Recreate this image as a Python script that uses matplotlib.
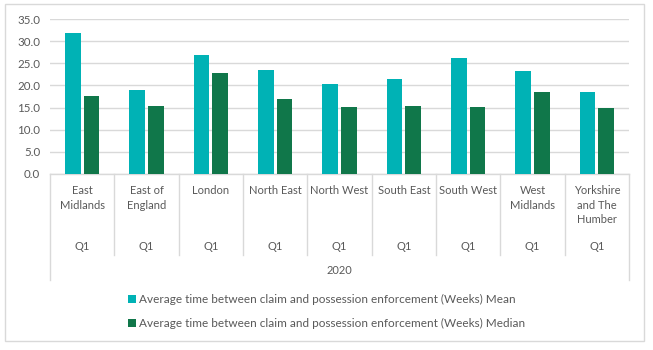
import matplotlib
matplotlib.use("Agg")
import matplotlib.pyplot as plt
from matplotlib.patches import Rectangle
from matplotlib.lines import Line2D

regions = ["East\nMidlands", "East of\nEngland", "London", "North East", "North West",
           "South East", "South West", "West\nMidlands", "Yorkshire\nand The\nHumber"]
quarter = "Q1"
year = "2020"
mean_vals = [31.8, 19.0, 26.9, 23.4, 20.3, 21.4, 26.2, 23.2, 18.6]
median_vals = [17.6, 15.4, 22.9, 17.0, 15.1, 15.4, 15.1, 18.6, 14.9]
series_names = ["Average time between claim and possession enforcement (Weeks) Mean",
                "Average time between claim and possession enforcement (Weeks) Median"]
yticks = [0, 5, 10, 15, 20, 25, 30, 35]

plt.rcParams['font.family'] = ['Lato', 'DejaVu Sans']
TXT = '#595959'
C_MEAN = '#00B2B5'
C_MED = '#10774A'
GRID = '#D9D9D9'

W, H = 653, 350
fig = plt.figure(figsize=(W/100, H/100), dpi=100)
fig.add_artist(Rectangle((5/W, 1 - 341/H), 639/W, 337/H, transform=fig.transFigure,
                         fill=False, edgecolor='#D9D9D9', linewidth=1))

x0, x1, ytop, ybot = 50, 629, 19, 174
ax = fig.add_axes([x0/W, 1 - ybot/H, (x1 - x0)/W, (ybot - ytop)/H])

n = len(regions)
xs = list(range(n))
bw = 0.24
off = 0.145
b1 = ax.bar([x - off for x in xs], mean_vals, width=bw, color=C_MEAN, label=series_names[0], zorder=3)
b2 = ax.bar([x + off for x in xs], median_vals, width=bw, color=C_MED, label=series_names[1], zorder=3)

ax.set_xlim(-0.5, n - 0.5)
ax.set_ylim(0, 35)
ax.set_yticks(yticks)
ax.set_yticklabels([f"{v:.1f}" for v in yticks], color=TXT, fontsize=8.3)
ax.tick_params(axis='y', length=0, pad=7)
ax.set_xticks([])
ax.grid(axis='y', color=GRID, linewidth=1, zorder=0)
for s in ['top', 'right', 'left']:
    ax.spines[s].set_visible(False)
ax.spines['bottom'].set_color(GRID)
ax.spines['bottom'].set_linewidth(1)

axh = ybot - ytop
def yax(px):
    return (ybot - px) / axh

tr = ax.get_xaxis_transform()
for i in range(n + 1):
    bottom = 280 if i in (0, n) else 255
    ax.add_line(Line2D([i - 0.5, i - 0.5], [0, yax(bottom)], transform=tr,
                       color=GRID, linewidth=1, clip_on=False))
for i, r in enumerate(regions):
    ax.text(i, yax(185), r, transform=tr, ha='center', va='top', fontsize=8.0,
            color=TXT, linespacing=1.4)
    ax.text(i, yax(246), quarter, transform=tr, ha='center', va='center', fontsize=8.0, color=TXT)
ax.text((n - 1) / 2, yax(270), year, transform=tr, ha='center', va='center', fontsize=8.0, color=TXT)

leg = fig.legend(handles=[b1, b2], loc='upper left', bbox_to_anchor=(123/W, 1 - 289/H),
                 frameon=False, fontsize=8.5, handlelength=0.68, handleheight=0.68,
                 handletextpad=0.25, labelspacing=1.12, borderaxespad=0)
for t in leg.get_texts():
    t.set_color(TXT)

fig.savefig("out.png", dpi=100)
